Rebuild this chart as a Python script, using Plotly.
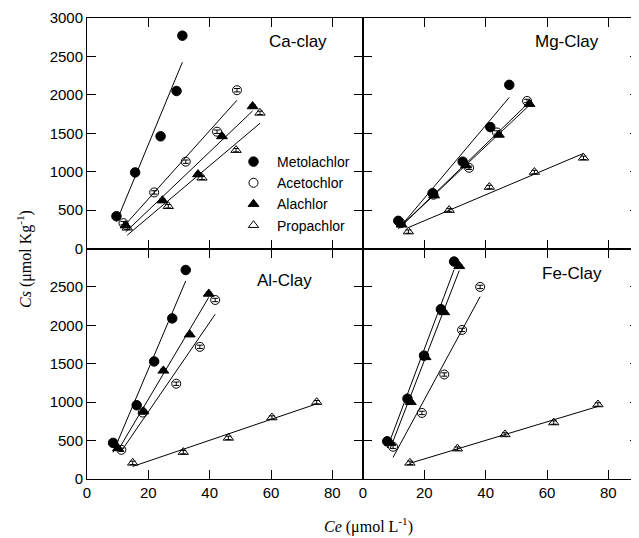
import numpy as np
import plotly.graph_objects as go

# ---------------- data (Ce in umol/L, Cs in umol/Kg) ----------------
panels = ["Ca-clay", "Mg-Clay", "Al-Clay", "Fe-Clay"]
herbicides = ["Metolachlor", "Acetochlor", "Alachlor", "Propachlor"]

# Ca-clay
ca_met_x = [9.6, 15.7, 24.0, 29.2, 31.1]
ca_met_y = [420, 990, 1460, 2050, 2770]
ca_ace_x = [11.9, 21.9, 32.2, 42.4, 48.9]
ca_ace_y = [330, 730, 1130, 1520, 2060]
ca_ala_x = [12.6, 24.6, 36.2, 44.0, 54.0]
ca_ala_y = [300, 625, 965, 1460, 1850]
ca_pro_x = [13.1, 26.5, 37.5, 48.6, 56.4]
ca_pro_y = [270, 550, 920, 1280, 1765]

# Mg-Clay
mg_met_x = [11.5, 22.7, 32.5, 41.5, 47.7]
mg_met_y = [360, 720, 1130, 1580, 2130]
mg_ace_x = [12.3, 23.0, 34.6, 43.7, 53.5]
mg_ace_y = [330, 700, 1050, 1510, 1920]
mg_ala_x = [12.6, 23.2, 33.6, 44.3, 54.3]
mg_ala_y = [310, 690, 1080, 1480, 1880]
mg_pro_x = [14.8, 28.1, 41.2, 55.9, 71.9]
mg_pro_y = [220, 500, 800, 995, 1180]

# Al-Clay
al_met_x = [8.5, 16.2, 21.9, 27.8, 32.2]
al_met_y = [470, 960, 1530, 2090, 2720]
al_ace_x = [11.2, 18.2, 29.1, 36.8, 41.8]
al_ace_y = [380, 865, 1240, 1720, 2330]
al_ala_x = [10.1, 18.4, 24.9, 33.5, 39.7]
al_ala_y = [400, 880, 1410, 1880, 2410]
al_pro_x = [14.9, 31.4, 46.1, 60.3, 74.9]
al_pro_y = [210, 350, 535, 800, 1000]

# Fe-Clay
fe_met_x = [7.9, 14.5, 19.9, 25.4, 29.7]
fe_met_y = [490, 1045, 1605, 2210, 2830]
fe_ace_x = [9.8, 19.2, 26.5, 32.3, 38.2]
fe_ace_y = [420, 860, 1360, 1940, 2500]
fe_ala_x = [8.9, 15.6, 20.4, 26.5, 31.4]
fe_ala_y = [470, 1000, 1585, 2170, 2770]
fe_pro_x = [15.3, 30.8, 46.3, 62.2, 76.6]
fe_pro_y = [210, 395, 580, 735, 970]

cs_error = 22  # approximate standard error (umol/Kg)

x_ticks = [0, 20, 40, 60, 80]
y_ticks = [0, 500, 1000, 1500, 2000, 2500, 3000]

series = {
    "Ca-clay": [(ca_met_x, ca_met_y), (ca_ace_x, ca_ace_y), (ca_ala_x, ca_ala_y), (ca_pro_x, ca_pro_y)],
    "Mg-Clay": [(mg_met_x, mg_met_y), (mg_ace_x, mg_ace_y), (mg_ala_x, mg_ala_y), (mg_pro_x, mg_pro_y)],
    "Al-Clay": [(al_met_x, al_met_y), (al_ace_x, al_ace_y), (al_ala_x, al_ala_y), (al_pro_x, al_pro_y)],
    "Fe-Clay": [(fe_met_x, fe_met_y), (fe_ace_x, fe_ace_y), (fe_ala_x, fe_ala_y), (fe_pro_x, fe_pro_y)],
}

# ---------------- styling ----------------
symbols = ["circle", "circle-open", "triangle-up", "triangle-up-open"]
msizes = [9.5, 9, 9.5, 9]

OFF = 8  # page body margin of the browser
W, H = 639 - OFF, 538 - OFF
PL, PR, PT, PB = 87, 639, 18, 479   # plot area in screen pixels
ML, MR, MT, MB = PL - OFF, (639 - OFF) - (PR - OFF), PT - OFF, H - (PB - OFF)
PW, PH = W - ML - MR, H - MT - MB

def px2paper(px, py):
    """screen pixel -> paper coords"""
    fx, fy = px - OFF, py - OFF
    return (fx - ML) / PW, (H - MB - fy) / PH

axis_ids = [("x", "y"), ("x2", "y2"), ("x3", "y3"), ("x4", "y4")]
xdomains = [[0, 0.5], [0.5, 1], [0, 0.5], [0.5, 1]]
ydomains = [[0.5, 1], [0.5, 1], [0, 0.5], [0, 0.5]]

fig = go.Figure()

for p, panel in enumerate(panels):
    xa, ya = axis_ids[p]
    for k, (xs, ys) in enumerate(series[panel]):
        xs = np.array(xs, dtype=float)
        ys = np.array(ys, dtype=float)
        slope, icpt = np.polyfit(xs, ys, 1)
        xl = np.array([xs.min(), xs.max()])
        fig.add_trace(go.Scatter(
            x=xl, y=slope * xl + icpt, mode="lines",
            line=dict(color="black", width=1),
            xaxis=xa, yaxis=ya, showlegend=False, hoverinfo="skip"))
        fig.add_trace(go.Scatter(
            x=xs, y=ys, mode="markers",
            name=herbicides[k],
            marker=dict(symbol=symbols[k], size=msizes[k], color="black",
                        line=dict(color="black", width=1)),
            error_y=dict(type="constant", value=cs_error, color="black",
                         thickness=1, width=3),
            xaxis=xa, yaxis=ya,
            showlegend=(p == 0), legendrank=k + 1))

axis_common = dict(showline=True, linecolor="black", linewidth=1, mirror="ticks",
                   ticks="inside", ticklen=9, tickwidth=1, tickcolor="black",
                   showgrid=False, zeroline=False,
                   tickfont=dict(family="Liberation Sans, Arial", size=15, color="black"))

lgx, lgy = px2paper(230, 146)
layout = dict(
    width=W, height=H,
    margin=dict(l=ML, r=MR, t=MT, b=MB, pad=0),
    plot_bgcolor="white", paper_bgcolor="white",
    showlegend=True,
    legend=dict(x=lgx, y=lgy, xanchor="left", yanchor="top",
                bgcolor="rgba(0,0,0,0)", borderwidth=0, itemwidth=37,
                font=dict(family="Liberation Sans, Arial", size=14, color="black"),
                tracegroupgap=0),
)

for p in range(4):
    xa, ya = axis_ids[p]
    xkey = "xaxis" if xa == "x" else "xaxis" + xa[1:]
    ykey = "yaxis" if ya == "y" else "yaxis" + ya[1:]
    bottom = p >= 2
    left = p % 2 == 0
    xd = dict(axis_common, domain=xdomains[p], range=[0, 90], tickvals=x_ticks,
              ticktext=[str(v) for v in x_ticks], showticklabels=bottom,
              anchor=ya)
    ytext = [str(v) for v in y_ticks]
    if bottom:
        ytext[-1] = " "
    yd = dict(axis_common, domain=ydomains[p], range=[0, 3000], tickvals=y_ticks,
              ticktext=ytext, showticklabels=left, anchor=xa)
    layout[xkey] = xd
    layout[ykey] = yd

fig.update_layout(**layout)

# panel labels
label_pos = {"Ca-clay": (298, 42), "Mg-Clay": (567, 42), "Al-Clay": (284, 280), "Fe-Clay": (572, 273)}
for panel in panels:
    lx, ly = px2paper(*label_pos[panel])
    fig.add_annotation(x=lx, y=ly, xref="paper", yref="paper", text=panel,
                       showarrow=False, xanchor="center", yanchor="middle",
                       font=dict(family="Liberation Sans, Arial", size=17, color="black"))

# axis titles
tx, ty = px2paper(368, 525)
fig.add_annotation(x=tx, y=ty, xref="paper", yref="paper",
                   text="<i>Ce</i> (\u03bcmol L<sup>-1</sup>)", showarrow=False,
                   xanchor="center", yanchor="middle",
                   font=dict(family="Liberation Serif, Times New Roman", size=16, color="black"))
tx, ty = px2paper(24, 259)
fig.add_annotation(x=tx, y=ty, xref="paper", yref="paper",
                   text="<i>Cs</i> (\u03bcmol Kg<sup>-1</sup>)", showarrow=False,
                   textangle=-90, xanchor="center", yanchor="middle",
                   font=dict(family="Liberation Serif, Times New Roman", size=16, color="black"))

fig.write_html("out.html")
